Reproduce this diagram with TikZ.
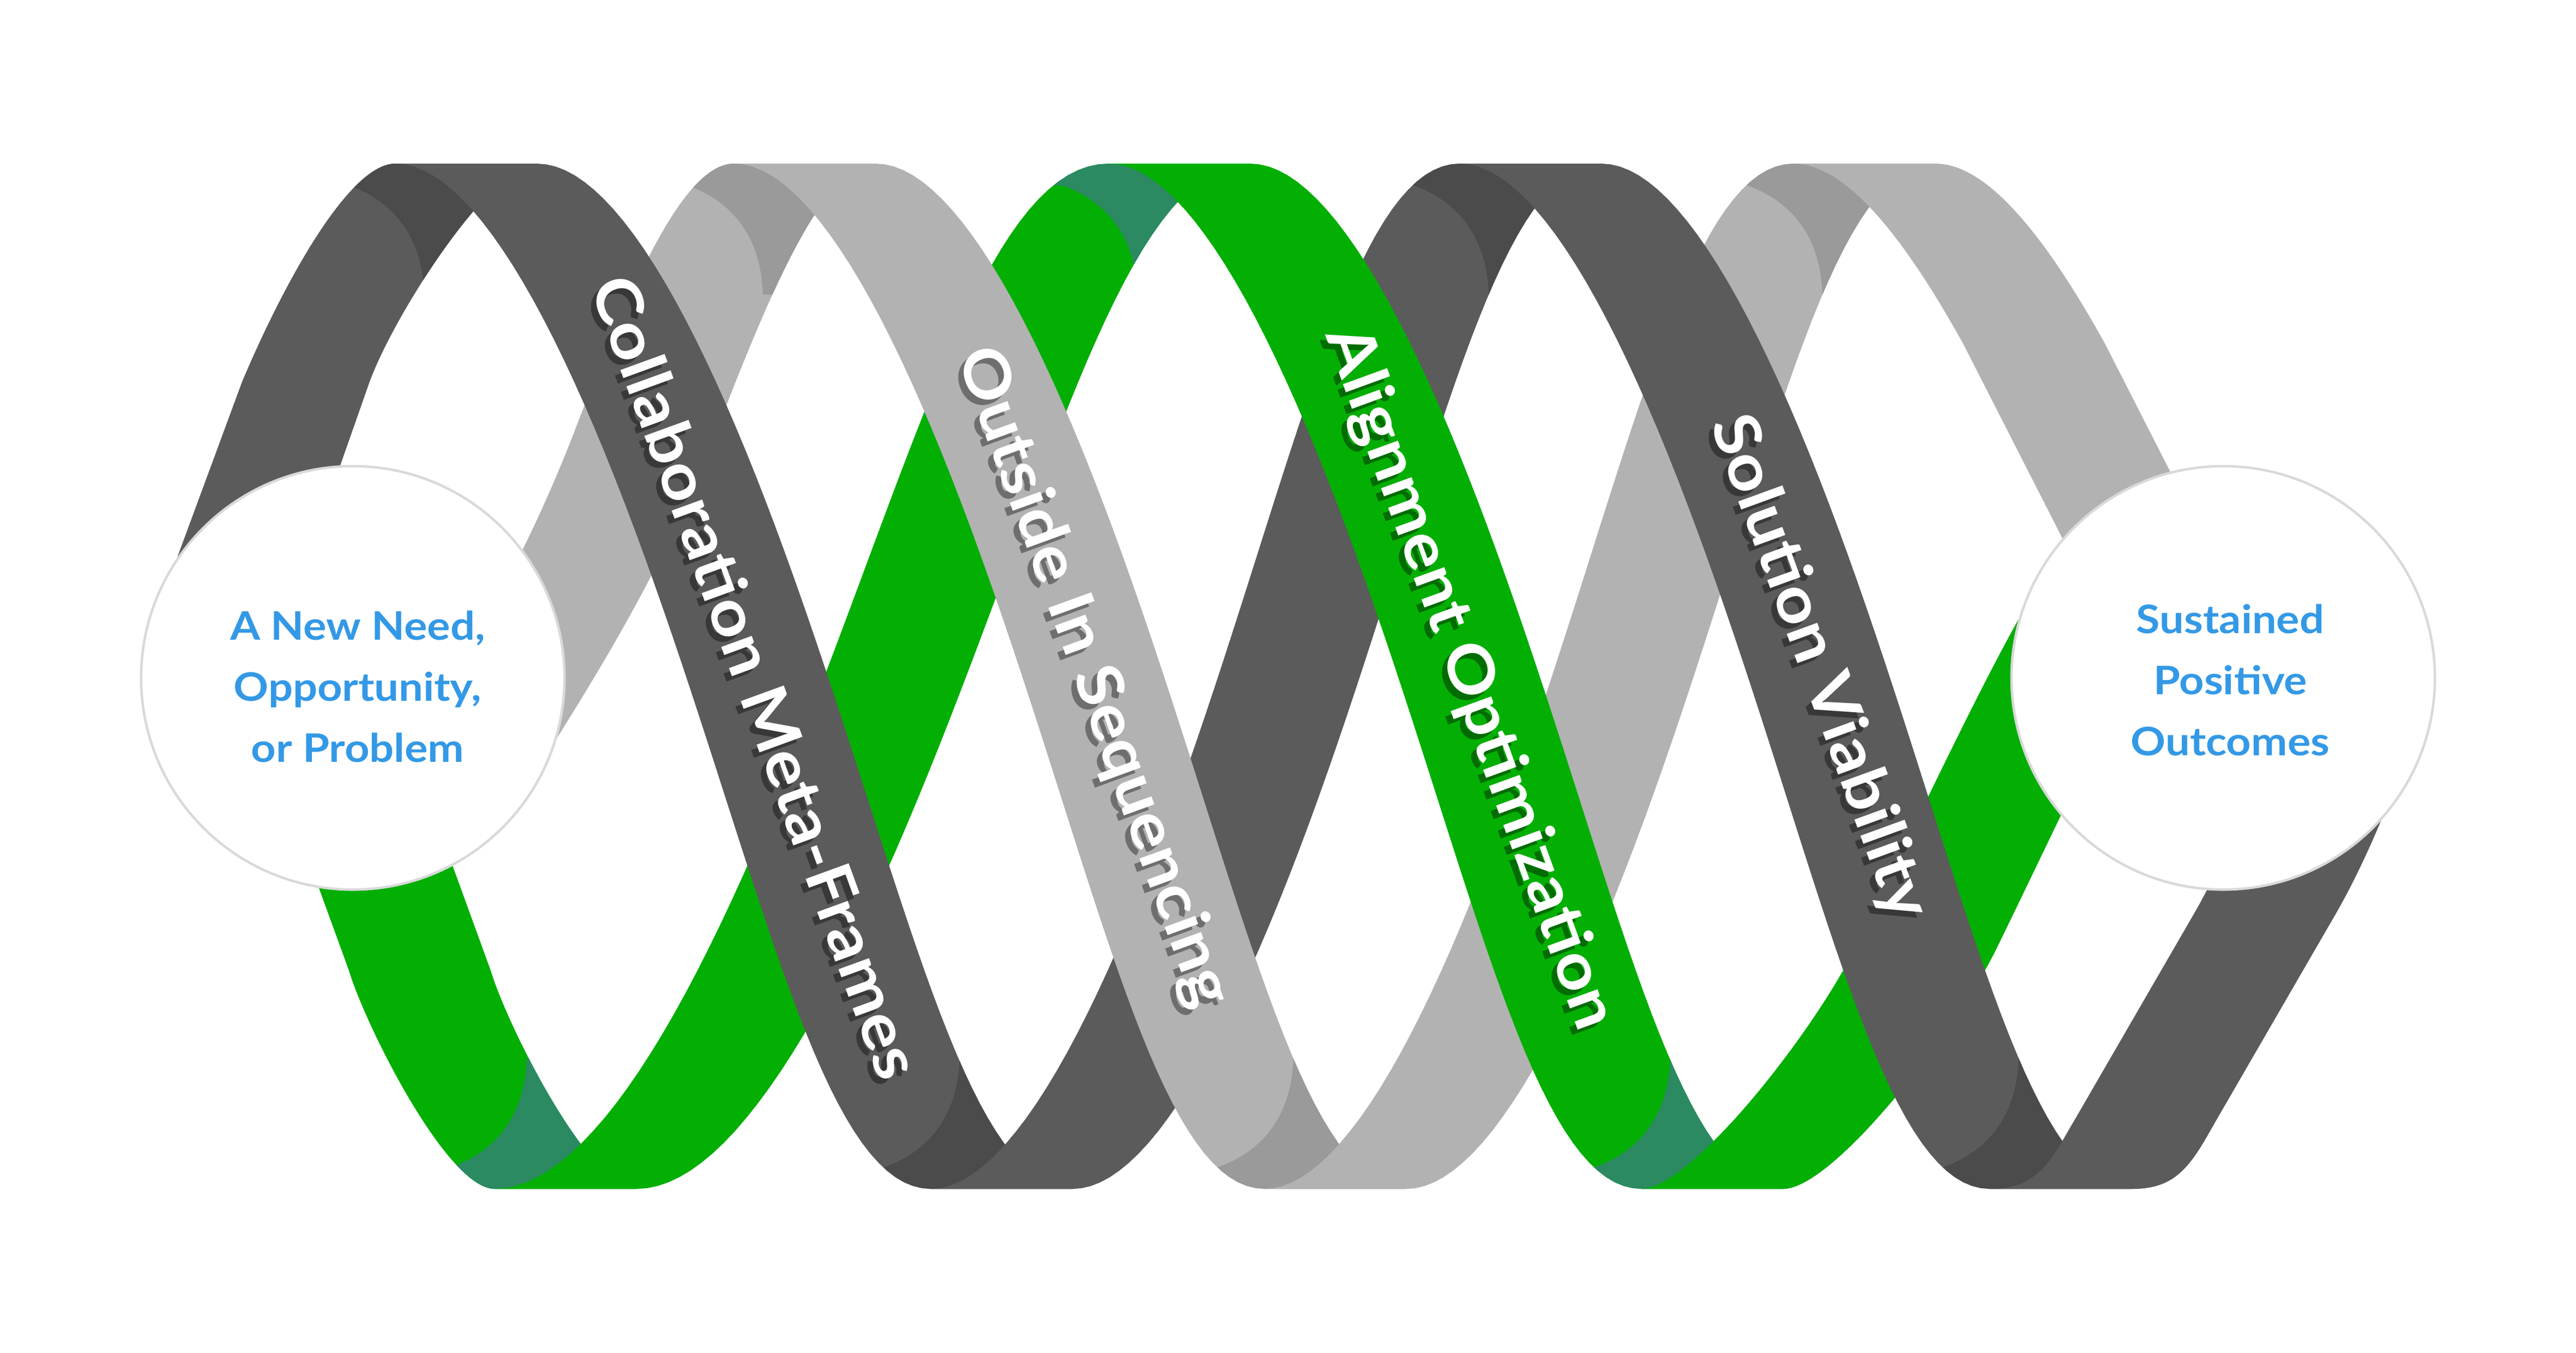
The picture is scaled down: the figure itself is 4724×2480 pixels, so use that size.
\documentclass[tikz,border=0pt]{standalone}
\usepackage{fontspec}
\setmainfont{Lato}[FakeStretch=1.1]
\definecolor{dk}{HTML}{5B5B5B}
\definecolor{dkc}{HTML}{4B4B4B}
\definecolor{lt}{HTML}{B2B2B2}
\definecolor{ltc}{HTML}{9A9A9A}
\definecolor{gn}{HTML}{04AF04}
\definecolor{gnc}{HTML}{2B8A62}
\definecolor{ink}{HTML}{3399E6}
\definecolor{rim}{HTML}{D9D9D9}
\def\ym{1240}\def\amp{940}\def\rw{260}\def\dl{42}
\def\ytop{300}\def\ybot{2180}
\newcommand{\frontleg}[2]{plot[domain=0:3.14159,samples=60] ({#1+#2/3.14159*\x+\dl*(sin(\x r))^2},{\ym-\amp*cos(\x r)}) -- plot[domain=3.14159:0,samples=60] ({#1+\rw+#2/3.14159*\x+\dl*(sin(\x r))^2},{\ym-\amp*cos(\x r)}) -- cycle}
\newcommand{\backleg}[2]{plot[domain=3.14159:6.28318,samples=60] ({#1+#2/3.14159*(\x-3.14159)+\dl*(sin(\x r))^2},{\ym-\amp*cos(\x r)}) -- plot[domain=6.28318:3.14159,samples=60] ({#1+\rw+#2/3.14159*(\x-3.14159)+\dl*(sin(\x r))^2},{\ym-\amp*cos(\x r)}) -- cycle}
\newcommand{\dzero}{(300,1090) -- (444,700) .. controls (520,520) and (640,300) .. (725,300) -- (985,300) .. controls (900,300) and (720,580) .. (676,705) -- (590,950) -- (560,1090) -- cycle}
\newcommand{\lzero}{(700,1450) .. controls (860,1200) and (960,1030) .. (1050,800) .. controls (1150,540) and (1250,300) .. (1346,300) -- (1606,300) .. controls (1510,300) and (1410,540) .. (1310,800) .. controls (1220,1030) and (1120,1200) .. (960,1450) -- cycle}
\newcommand{\gzero}{(520,1450) -- (640,1780) .. controls (670,1880) and (820,2180) .. (907,2180) -- (1167,2180) .. controls (1080,2180) and (930,1880) .. (900,1780) -- (780,1450) -- cycle}
\newcommand{\gthree}{(3010,2180) .. controls (3100,2180) and (3320,1900) .. (3398,1746) .. controls (3470,1600) and (3610,1300) .. (3697,1144) -- (3760,1030) -- (4020,1030) -- (3957,1144) .. controls (3870,1300) and (3730,1600) .. (3658,1746) .. controls (3580,1900) and (3360,2180) .. (3270,2180) -- cycle}
\newcommand{\dfour}{(3649,2180) .. controls (3720,2180) and (3750,2150) .. (3791,2077) -- (4022,1678) .. controls (4070,1595) and (4110,1500) .. (4140,1420) -- (4400,1420) .. controls (4370,1500) and (4330,1595) .. (4282,1678) -- (4051,2077) .. controls (4010,2150) and (3980,2180) .. (3909,2180) -- cycle}
\newcommand{\lthree}{(3289,300) .. controls (3390,300) and (3500,450) .. (3600,630) -- (3850,1120) -- (4110,1120) -- (3860,630) .. controls (3760,450) and (3650,300) .. (3549,300) -- cycle}
\newcommand{\topcap}[2]{\fill[#2] (#1-450,\ytop+40) -- (#1-222,\ytop+40) .. controls (#1-160,\ytop+62) and (#1-88,\ytop+115) .. (#1-84,\ytop+240) -- (#1+260,\ytop+240) -- (#1+260,\ytop-80) -- (#1-450,\ytop-80) -- cycle;}
\newcommand{\botcap}[2]{\fill[#2] (#1-450,\ybot-40) -- (#1-222,\ybot-40) .. controls (#1-160,\ybot-62) and (#1-88,\ybot-115) .. (#1-84,\ybot-240) -- (#1+260,\ybot-240) -- (#1+260,\ybot+80) -- (#1-450,\ybot+80) -- cycle;}
\begin{document}
\begin{tikzpicture}[x=0.01cm, y=-0.01cm,
  disc/.style={circle, fill=white, draw=rim, line width=1.3pt, minimum size=7.76cm, inner sep=0pt},
  ctext/.style={font=\fontsize{20.5}{31.8}\selectfont\bfseries, text=ink, align=center, inner sep=0pt},
  lbl/.style={font=\fontsize{33}{40}\selectfont\bfseries, text=white, rotate=-70, inner sep=0pt},
  lblsh/.style={lbl, text=black, text opacity=0.38}]

\useasboundingbox (0,0) rectangle (4724,2480);
\fill[white] (0,0) rectangle (4724,2480);

\fill[dk] \dzero;
\begin{scope} \clip \dzero; \topcap{862}{dkc} \end{scope}
\fill[lt] \lzero;
\begin{scope} \clip \lzero; \topcap{1483}{ltc} \end{scope}
\foreach \s/\l/\ax/\fc/\kc in {907/1126/2170/gn/gnc, 1707/970/2814/dk/dkc, 2319/970/3426/lt/ltc}{
  \fill[\fc] \backleg{\s}{\l};
  \begin{scope} \clip \backleg{\s}{\l}; \topcap{\ax}{\kc} \end{scope}
}
\fill[gn] \gthree;
\fill[dk] \dfour;

\fill[gn] \gzero;
\begin{scope} \clip \gzero; \botcap{1050}{gnc} \end{scope}
\foreach \s/\l/\fc/\kc in {725/982/dk/dkc, 1346/973/lt/ltc, 2033/977/gn/gnc, 2677/972/dk/dkc}{
  \fill[\fc] \frontleg{\s}{\l};
  \begin{scope} \clip \frontleg{\s}{\l}; \pgfmathsetmacro\bx{\s+\l+137} \botcap{\bx}{\kc} \end{scope}
}
\fill[lt] \lthree;

\begin{scope}
  \clip (0,2060) rectangle (4724,2480);
  \fill[gn] \backleg{907}{1126};
  \fill[dk] \backleg{1707}{970};
  \fill[lt] \backleg{2319}{970};
  \fill[gn] \gthree;
  \fill[dk] \dfour;
\end{scope}

\foreach \n/\px/\py/\t in {collab/1388/1241/Collaboration Meta-Frames, outside/2004/1242/Outside In Sequencing, align/2694/1243/Alignment Optimization, solution/3335/1224/Solution Viability}{
  \node[lblsh] at (\px-10,\py+10) {\t};
  \node[lbl] (\n) at (\px,\py) {\t};
}

\node[disc] (need) at (647,1243) {};
\node[disc] (outcome) at (4077,1243) {};
\node[ctext] (needtext) at (656,1259) {A New Need,\\Opportunity,\\or Problem};
\node[ctext] (outcometext) at (4090,1247) {Sustained\\Positive\\Outcomes};
\end{tikzpicture}
\end{document}
